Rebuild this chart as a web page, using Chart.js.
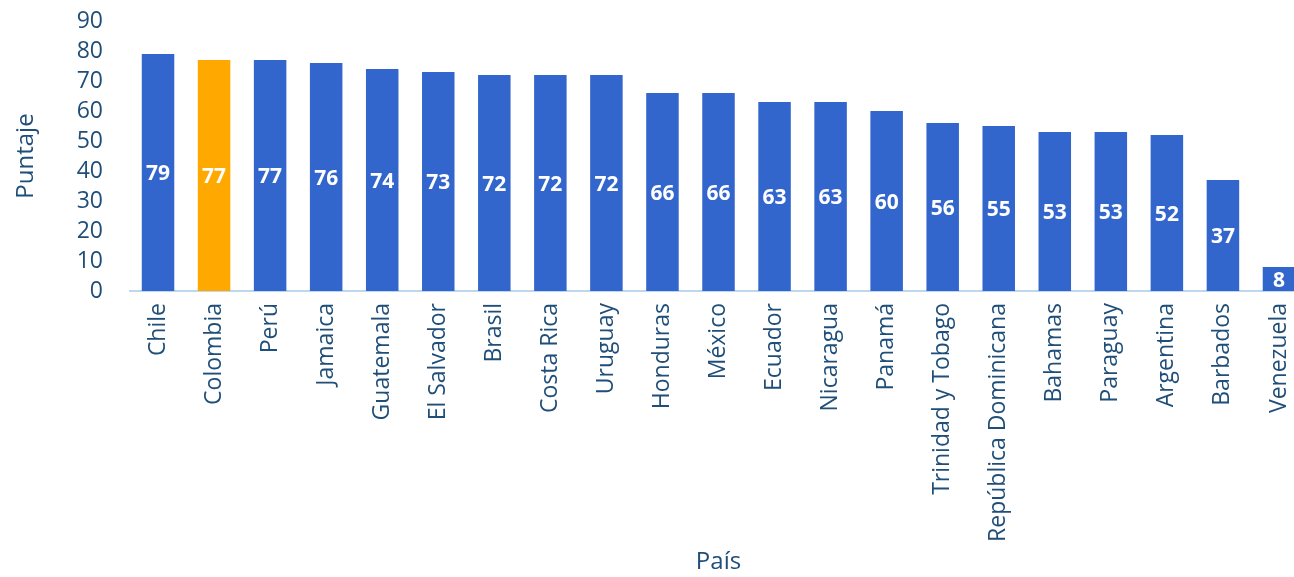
<!DOCTYPE html>
<html>
<head>
<meta charset="utf-8">
<script src="https://cdn.jsdelivr.net/npm/chart.js@4"></script>
<style>
  html, body { margin: 0; padding: 0; background: #fff; overflow: hidden; }
  #wrap { width: 1307px; height: 577px; }
</style>
</head>
<body>
<div id="wrap"><canvas id="puntajeChart"></canvas></div>
<script>
// Puntaje por país
const paises = ['Chile', 'Colombia', 'Perú', 'Jamaica', 'Guatemala', 'El Salvador', 'Brasil',
  'Costa Rica', 'Uruguay', 'Honduras', 'México', 'Ecuador', 'Nicaragua', 'Panamá',
  'Trinidad y Tobago', 'República Dominicana', 'Bahamas', 'Paraguay', 'Argentina',
  'Barbados', 'Venezuela'];
const puntajes = [79, 77, 77, 76, 74, 73, 72, 72, 72, 66, 66, 63, 63, 60, 56, 55, 53, 53, 52, 37, 8];
const destacado = 'Colombia';

const azul = '#3366cc';
const naranja = '#ffa800';
const textoColor = '#1f4e79';
const fuente = "'Open Sans', sans-serif";

// etiquetas blancas en el centro de cada barra
const etiquetasBarras = {
  id: 'etiquetasBarras',
  afterDatasetsDraw(chart) {
    const ctx = chart.ctx;
    const meta = chart.getDatasetMeta(0);
    ctx.save();
    ctx.fillStyle = '#ffffff';
    ctx.font = 'bold 21px ' + fuente;
    ctx.textAlign = 'center';
    ctx.textBaseline = 'middle';
    meta.data.forEach((bar, i) => {
      const p = bar.getCenterPoint();
      ctx.fillText(puntajes[i], p.x, p.y + 2);
    });
    ctx.restore();
  }
};

const ctx = document.getElementById('puntajeChart').getContext('2d');
new Chart(ctx, {
  type: 'bar',
  data: {
    labels: paises,
    datasets: [{
      data: puntajes,
      backgroundColor: paises.map(p => p === destacado ? naranja : azul),
      barPercentage: 0.58,
      categoryPercentage: 1
    }]
  },
  options: {
    responsive: true,
    maintainAspectRatio: false,
    animation: false,
    layout: { padding: { top: 21, right: 0, left: 0, bottom: 0 } },
    plugins: { legend: { display: false }, tooltip: { enabled: false } },
    scales: {
      x: {
        grid: { display: false, drawTicks: false },
        border: { display: true, color: '#bdd7ee', width: 2 },
        ticks: {
          color: textoColor,
          font: { family: fuente, size: 23 },
          minRotation: 90,
          maxRotation: 90,
          autoSkip: false,
          padding: 12
        },
        title: {
          display: true,
          text: 'País',
          color: textoColor,
          font: { family: fuente, size: 24 },
          padding: { top: 0, bottom: 0 }
        },
        afterFit(scale) {
          scale.height = 286;
          scale.paddingLeft = 0;
          scale.paddingRight = 0;
        }
      },
      y: {
        min: 0,
        max: 90,
        grid: { display: false, drawTicks: false },
        border: { display: false },
        ticks: {
          stepSize: 10,
          autoSkip: false,
          color: textoColor,
          font: { family: fuente, size: 23 },
          padding: 27
        },
        title: {
          display: true,
          text: 'Puntaje',
          color: textoColor,
          font: { family: fuente, size: 24 },
          padding: { top: 12, bottom: 0 }
        },
        afterFit(scale) {
          scale.width = 130;
          scale.paddingTop = 0;
          scale.paddingBottom = 0;
        }
      }
    }
  },
  plugins: [etiquetasBarras]
});
</script>
</body>
</html>
